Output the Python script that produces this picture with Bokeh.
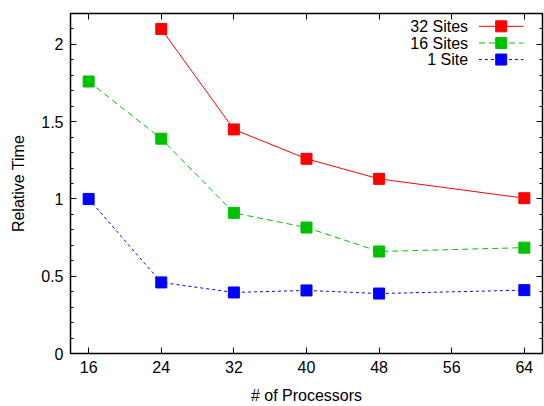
from bokeh.plotting import figure
from bokeh.models import Range1d, LinearAxis, FixedTicker, CustomJSTickFormatter
from bokeh.core.properties import value
from bokeh.embed import file_html
from bokeh.resources import INLINE

# ---- data ----
x_32 = [24, 32, 40, 48, 64]
y_32 = [2.10, 1.45, 1.26, 1.13, 1.005]
x_16 = [16, 24, 32, 40, 48, 64]
y_16 = [1.76, 1.39, 0.91, 0.815, 0.66, 0.685]
x_1 = [16, 24, 32, 40, 48, 64]
y_1 = [1.0, 0.46, 0.395, 0.408, 0.388, 0.41]
series_names = ["32 Sites", "16 Sites", "1 Site"]
x_ticks = [16, 24, 32, 40, 48, 56, 64]
y_ticks = [0, 0.5, 1, 1.5, 2]
y_minor = [round(i * 0.1, 1) for i in range(0, 23)]

# ---- style ----
RED = "#ff0000"
GREEN = "#00c000"
BLUE = "#0000ff"
FONT = value("Liberation Sans")
FS = "16px"

p = figure(width=544, height=406, output_backend="svg", toolbar_location=None,
           x_range=Range1d(14, 66), y_range=Range1d(0, 2.2),
           min_border_left=70, min_border_right=2, min_border_top=13, min_border_bottom=53,
           x_axis_location=None, y_axis_location=None)
p.grid.visible = False
p.outline_line_color = "black"
p.outline_line_width = 1.5
p.background_fill_color = "white"
p.border_fill_color = "white"

fmt = CustomJSTickFormatter(code="return String(tick);")

def make_axis(show_labels, label=None, dim="x"):
    ax = LinearAxis()
    if dim == "x":
        ax.ticker = FixedTicker(ticks=x_ticks, minor_ticks=[])
    else:
        ax.ticker = FixedTicker(ticks=y_ticks, minor_ticks=y_minor)
    ax.formatter = fmt
    ax.axis_line_color = None
    ax.major_tick_in = 6
    ax.major_tick_out = 0
    ax.minor_tick_in = 3
    ax.minor_tick_out = 0
    ax.major_tick_line_color = "black"
    ax.minor_tick_line_color = "black"
    ax.major_label_text_font = "Liberation Sans"
    if show_labels:
        ax.major_label_text_font_size = FS
        ax.major_label_text_color = "black"
        ax.major_label_standoff = 7
        ax.axis_label = label
        ax.axis_label_text_font = "Liberation Sans"
        ax.axis_label_text_font_size = FS
        ax.axis_label_text_font_style = "normal"
        ax.axis_label_text_color = "black"
        ax.axis_label_standoff = 11
    else:
        ax.major_label_text_font_size = "0px"
        ax.major_label_text_color = None
        ax.major_label_standoff = 0
    return ax

p.add_layout(make_axis(True, "# of Processors", "x"), "below")
p.add_layout(make_axis(False, None, "x"), "above")
p.add_layout(make_axis(True, "Relative Time", "y"), "left")
p.add_layout(make_axis(False, None, "y"), "right")

# ---- series ----
p.line(x_32, y_32, line_color=RED, line_width=1)
p.scatter(x_32, y_32, marker="square", size=11, fill_color=RED, line_color=RED)
p.line(x_16, y_16, line_color=GREEN, line_width=1, line_dash="6 4")
p.scatter(x_16, y_16, marker="square", size=11, fill_color=GREEN, line_color=GREEN)
p.line(x_1, y_1, line_color=BLUE, line_width=1, line_dash="3 3")
p.scatter(x_1, y_1, marker="square", size=11, fill_color=BLUE, line_color=BLUE)

# ---- legend (label left, sample right, gnuplot style) ----
LEG_TEXT_X = 57.8
LEG_LINE_X0 = 59.0
LEG_LINE_X1 = 63.9
LEG_MARK_X = 61.45
LEG_ROWS_Y = [2.117, 2.009, 1.902]
colors = [RED, GREEN, BLUE]
dashes = ["solid", "6 4", "3 3"]

p.text(x=[LEG_TEXT_X] * 3, y=LEG_ROWS_Y, text=series_names,
       text_align="right", text_baseline="middle", text_font=FONT,
       text_font_size=FS, text_color="black")
for yy, c, d in zip(LEG_ROWS_Y, colors, dashes):
    p.line([LEG_LINE_X0, LEG_LINE_X1], [yy, yy], line_color=c, line_width=1, line_dash=d)
    p.scatter([LEG_MARK_X], [yy], marker="square", size=11, fill_color=c, line_color=c)

open("out.html", "w").write(file_html(p, INLINE))
